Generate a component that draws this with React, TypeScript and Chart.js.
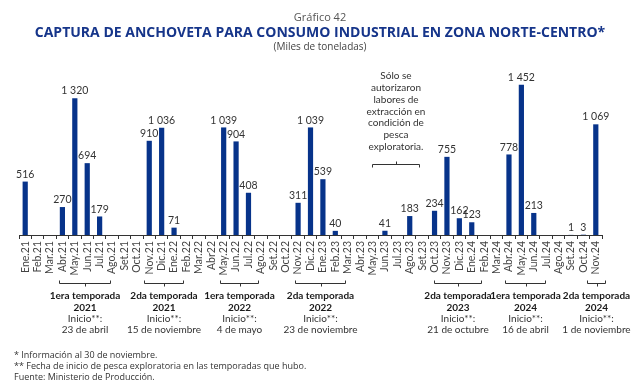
import React, { useEffect, useRef } from "react";
import { Chart, registerables } from "chart.js";

Chart.register(...registerables);

const chartNumber = "Gráfico 42";
const chartTitle = "CAPTURA DE ANCHOVETA PARA CONSUMO INDUSTRIAL EN ZONA NORTE-CENTRO*";
const chartUnit = "(Miles de toneladas)";

const categories = [
  "Ene.21", "Feb.21", "Mar.21", "Abr.21", "May.21", "Jun.21", "Jul.21", "Ago.21", "Set.21", "Oct.21", "Nov.21", "Dic.21",
  "Ene.22", "Feb.22", "Mar.22", "Abr22", "May.22", "Jun.22", "Jul.22", "Ago.22", "Set.22", "Oct.22", "Nov.22", "Dic.22",
  "Ene.23", "Feb.23", "Mar.23", "Abr.23", "May.23", "Jun.23", "Jul.23", "Ago.23", "Set.23", "Oct.23", "Nov.23", "Dic.23",
  "Ene.24", "Feb.24", "Mar.24", "Abr.24", "May.24", "Jun.24", "Jul.24", "Ago.24", "Set.24", "Oct.24", "Nov.24",
];

const captura = [
  516, 0, 0, 270, 1320, 694, 179, 0, 0, 0, 910, 1036,
  71, 0, 0, 0, 1039, 904, 408, 0, 0, 0, 311, 1039,
  539, 40, 0, 0, 0, 41, 0, 183, 0, 234, 755, 162,
  123, 0, 0, 778, 1452, 213, 0, 0, 1, 3, 1069,
];

const seasonNames = ["1era temporada", "2da temporada", "1era temporada", "2da temporada", "2da temporada", "1era temporada", "2da temporada"];
const seasonYears = ["2021", "2021", "2022", "2022", "2023", "2024", "2024"];
const seasonStartLabel = "Inicio**:";
const seasonStartDates = ["23 de abril", "15 de noviembre", "4 de mayo", "23 de noviembre", "21 de octubre", "16 de abril", "1 de noviembre"];
// bracket extent in category-index units
const seasonFrom = [2.7, 9.6, 15.7, 21.75, 32.95, 38.7, 45.3];
const seasonTo = [6.85, 12.7, 18.8, 25.8, 36.75, 41.9, 46.75];

const exploratoryNote = ["Sólo se", "autorizaron", "labores de", "extracción en", "condición de", "pesca", "exploratoria."];
const exploratoryFrom = 27.95;
const exploratoryTo = 31.75;

const footnotes = [
  "* Información al 30 de noviembre.",
  "** Fecha de inicio de pesca exploratoria en las temporadas que hubo.",
  "Fuente: Ministerio de Producción.",
];

const FONT = "'Open Sans', 'Noto Sans', sans-serif";
const NFONT = "Lato, 'Open Sans', sans-serif";
const BAR = "#07338a";

const fmt = (v: number) =>
  v >= 1000 ? `${Math.floor(v / 1000)} ${String(v % 1000).padStart(3, "0")}` : String(v);

const annotPlugin = {
  id: "annot",
  afterDatasetsDraw(chart: any) {
    const ctx = chart.ctx;
    const meta = chart.getDatasetMeta(0);
    ctx.save();
    ctx.font = `10.5px ${NFONT}`;
    ctx.fillStyle = "#333";
    ctx.textAlign = "center";
    ctx.textBaseline = "bottom";
    meta.data.forEach((el: any, i: number) => {
      const v = captura[i];
      if (!v) return;
      ctx.fillText(fmt(v), el.x, el.y - 2);
    });
    ctx.restore();
  },
  afterDraw(chart: any) {
    const ctx = chart.ctx;
    const xs = chart.scales.x;
    const W = chart.width;
    ctx.save();
    ctx.textAlign = "center";
    ctx.textBaseline = "middle";
    ctx.fillStyle = "#555";
    ctx.font = `11px ${FONT}`;
    ctx.fillText(chartNumber, W / 2, 18);
    ctx.fillStyle = "#16358a";
    ctx.font = `bold 14px ${FONT}`;
    ctx.fillText(chartTitle, W / 2, 33, 578);
    ctx.fillStyle = "#444";
    ctx.font = `10px ${FONT}`;
    ctx.fillText(chartUnit, W / 2, 47);

    ctx.strokeStyle = "#333";
    ctx.lineWidth = 1;
    // season brackets below axis
    const by = 283.5;
    seasonNames.forEach((name, i) => {
      const x1 = Math.round(xs.getPixelForValue(seasonFrom[i])) + 0.5;
      const x2 = Math.round(xs.getPixelForValue(seasonTo[i])) + 0.5;
      const xc = Math.round((x1 + x2) / 2) + 0.5;
      ctx.beginPath();
      ctx.moveTo(x1, by - 3);
      ctx.lineTo(x1, by);
      ctx.lineTo(x2, by);
      ctx.lineTo(x2, by - 3);
      ctx.moveTo(xc, by);
      ctx.lineTo(xc, by + 3);
      ctx.stroke();
      const tx = (x1 + x2) / 2;
      ctx.fillStyle = "#1a1a1a";
      ctx.font = `bold 10px ${NFONT}`;
      ctx.fillText(name, tx, 296);
      ctx.fillText(seasonYears[i], tx, 307.5);
      ctx.fillStyle = "#333";
      ctx.font = `10px ${NFONT}`;
      ctx.fillText(seasonStartLabel, tx, 319);
      ctx.fillText(seasonStartDates[i], tx, 330);
    });

    // exploratory note
    const ey = 164.5;
    const e1 = Math.round(xs.getPixelForValue(exploratoryFrom)) + 0.5;
    const e2 = Math.round(xs.getPixelForValue(exploratoryTo)) + 0.5;
    const ec = Math.round((e1 + e2) / 2) + 0.5;
    ctx.beginPath();
    ctx.moveTo(e1, ey + 3);
    ctx.lineTo(e1, ey);
    ctx.lineTo(e2, ey);
    ctx.lineTo(e2, ey + 3);
    ctx.moveTo(ec, ey);
    ctx.lineTo(ec, ey - 3);
    ctx.stroke();
    ctx.fillStyle = "#333";
    ctx.font = `10px ${NFONT}`;
    exploratoryNote.forEach((line, i) => {
      ctx.fillText(line, (e1 + e2) / 2, 76 + i * 11.8);
    });

    // footnotes
    ctx.textAlign = "left";
    ctx.fillStyle = "#333";
    ctx.font = `9px ${FONT}`;
    footnotes.forEach((line, i) => {
      ctx.fillText(line, 14, 355 + i * 11);
    });
    ctx.restore();
  },
};

export default function App() {
  const ref = useRef<HTMLCanvasElement | null>(null);
  useEffect(() => {
    document.body.style.margin = "0";
    const canvas = ref.current;
    if (!canvas) return;
    const chart = new Chart(canvas, {
      type: "bar",
      data: {
        labels: categories,
        datasets: [
          {
            data: captura,
            backgroundColor: BAR,
            borderWidth: 0,
            barPercentage: 0.42,
            categoryPercentage: 1,
          },
        ],
      },
      options: {
        responsive: false,
        animation: false,
        devicePixelRatio: 1,
        layout: { padding: { left: 19, right: 38, top: 59, bottom: 107 } },
        plugins: {
          legend: { display: false },
          tooltip: { enabled: false },
          title: { display: false },
        },
        scales: {
          y: {
            display: false,
            min: 0,
            max: 1700,
          },
          x: {
            offset: true,
            afterFit: (scale: any) => {
              scale.height = 50;
            },
            grid: {
              display: true,
              drawOnChartArea: false,
              drawTicks: true,
              tickLength: 4,
              color: "#333",
              offset: true,
            },
            border: { display: true, color: "#333", width: 1 },
            ticks: {
              autoSkip: false,
              minRotation: 90,
              maxRotation: 90,
              padding: 2,
              color: "#444",
              font: { family: NFONT, size: 10.5 },
            },
          },
        },
      },
      plugins: [annotPlugin],
    });
    return () => chart.destroy();
  }, []);
  return (
    <div style={{ width: 640, height: 392, background: "#fff" }}>
      <canvas ref={ref} width={640} height={392} style={{ display: "block" }} />
    </div>
  );
}
